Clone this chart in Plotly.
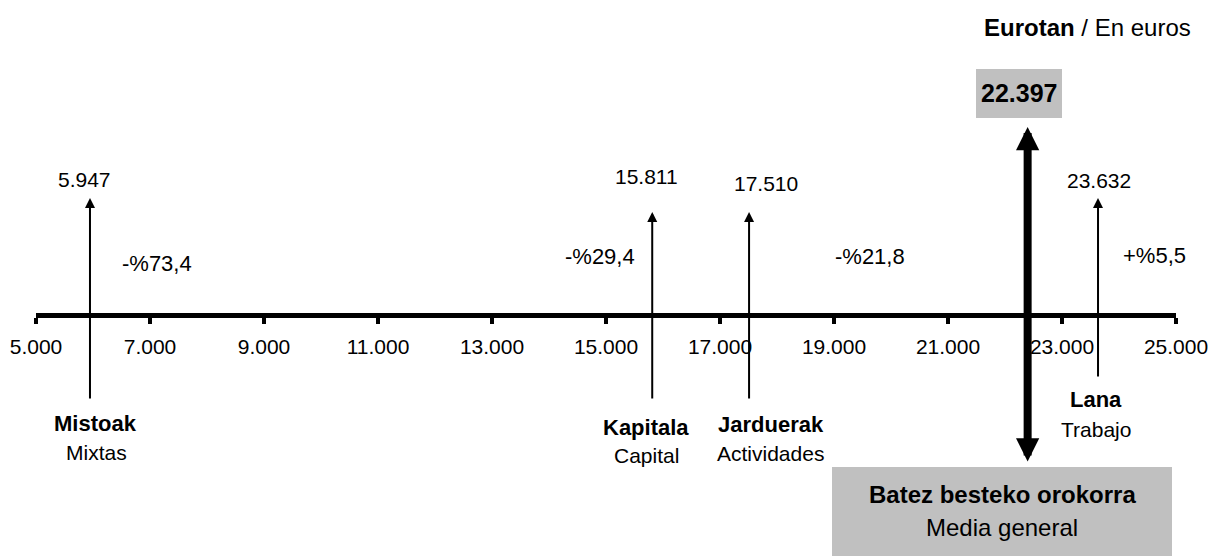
import plotly.graph_objects as go

# --- data ------------------------------------------------------------------
groups_eu = ["Mistoak", "Kapitala", "Jarduerak", "Lana"]
groups_es = ["Mixtas", "Capital", "Actividades", "Trabajo"]
income = [5947, 15811, 17510, 23632]
gap_pct = [-73.4, -29.4, -21.8, 5.5]

mean_eu = "Batez besteko orokorra"
mean_es = "Media general"
mean_income = 22397

tick_values = [5000, 7000, 9000, 11000, 13000, 15000, 17000, 19000, 21000, 23000, 25000]

# --- layout constants (page pixels) ----------------------------------------
W, H = 1220, 556
PAGE_PAD = 8             # default <body> margin around the plot div
AXIS_PY = 315            # pixel row of the number line
X0_PX, X1_PX = 36, 1176  # pixel columns of 5.000 and 25.000
FONT = "Liberation Sans, Arial, sans-serif"

# arrow extents, in pixels above (+) / below (-) the line
thin_top = [117, 103, 103, 117]
thin_bottom = [-85, -85, -85, -63]
mean_top, mean_bottom = 188, -148

# label anchors (x px, y px)
value_pos = [(84, 179), (646, 176), (766, 183), (1099, 180)]
gap_pos = [(157, 263), (600, 256), (870, 256), (1154, 255)]
eu_pos = [(95, 423), (646, 427), (771, 424), (1096, 400)]
es_pos = [(96, 452), (646, 455), (770, 453), (1096, 429)]


def fmt_eur(v):
    return f"{v:,}".replace(",", ".")


def fmt_pct(p):
    sign = "+" if p > 0 else "-"
    return f"{sign}%{abs(p):.1f}".replace(".", ",")


def px(x):
    return (x - PAGE_PAD) / W


def py(y):
    return 1 - (y - PAGE_PAD) / H


def text(x, y, s, size=21, bold=False, xanchor="center"):
    return dict(
        x=px(x), y=py(y), xref="paper", yref="paper", showarrow=False,
        text=f"<b>{s}</b>" if bold else s, xanchor=xanchor, yanchor="middle",
        font=dict(family=FONT, size=size, color="black"),
    )


fig = go.Figure()
fig.add_trace(go.Scatter(
    x=income + [mean_income], y=[0] * 5, mode="markers",
    marker=dict(size=1, color="rgba(0,0,0,0)"), hoverinfo="x", showlegend=False,
))

annotations = []
for i, v in enumerate(income):
    annotations.append(dict(
        x=v, y=thin_top[i], ax=v, ay=thin_bottom[i],
        xref="x", yref="y", axref="x", ayref="y", text="",
        showarrow=True, arrowhead=2, arrowsize=1, arrowwidth=2, arrowcolor="black",
    ))
    annotations.append(text(*value_pos[i], fmt_eur(v)))
    annotations.append(text(*gap_pos[i], fmt_pct(gap_pct[i]), size=22))
    annotations.append(text(*eu_pos[i], groups_eu[i], size=22, bold=True))
    annotations.append(text(*es_pos[i], groups_es[i]))

annotations.append(dict(
    x=mean_income, y=mean_top, ax=mean_income, ay=mean_bottom,
    xref="x", yref="y", axref="x", ayref="y", text="",
    showarrow=True, arrowside="end+start", arrowhead=2, startarrowhead=2,
    arrowsize=0.58, startarrowsize=0.58, arrowwidth=8, arrowcolor="black",
))
annotations.append(text(1019, 93, fmt_eur(mean_income), size=25, bold=True))
annotations.append(text(1002, 494, mean_eu, size=24, bold=True))
annotations.append(text(1002, 527, mean_es, size=24))
annotations.append(text(1193, 27, "<b>Eurotan</b> / En euros", size=24, xanchor="right"))

shapes = [
    dict(type="rect", xref="paper", yref="paper", x0=px(976), x1=px(1062),
         y0=py(118), y1=py(69), fillcolor="#c0c0c0", line_width=0, layer="below"),
    dict(type="rect", xref="paper", yref="paper", x0=px(832), x1=px(1172),
         y0=py(560), y1=py(467), fillcolor="#c0c0c0", line_width=0, layer="below"),
]

fig.update_layout(
    template="none",
    width=W, height=H, margin=dict(l=0, r=0, t=0, b=0, autoexpand=False),
    paper_bgcolor="white", plot_bgcolor="white",
    separators=",.", showlegend=False,
    annotations=annotations, shapes=shapes,
    xaxis=dict(
        range=[tick_values[0], tick_values[-1]],
        domain=[px(X0_PX), px(X1_PX)],
        anchor="free", position=py(AXIS_PY),
        tickvals=tick_values, tickformat=",d",
        showline=True, linecolor="black", linewidth=5,
        ticks="outside", ticklen=6, tickwidth=4, tickcolor="black",
        ticklabelstandoff=5,
        tickfont=dict(family=FONT, size=21, color="black"),
        showgrid=False, zeroline=False, fixedrange=True, automargin=False,
    ),
    yaxis=dict(
        range=[AXIS_PY - PAGE_PAD - H, AXIS_PY - PAGE_PAD], domain=[0, 1],
        visible=False, fixedrange=True, automargin=False,
    ),
)

fig.write_html("out.html")
